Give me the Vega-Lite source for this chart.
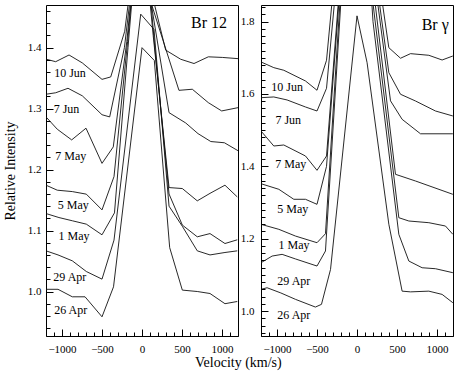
{
  "$schema": "https://vega.github.io/schema/vega-lite/v6.json",
  "padding": {"left": 2, "top": 4, "right": 3, "bottom": 4},
  "background": "white",
  "bounds": "flush",
  "spacing": 23,
  "title": {"text": "Velocity (km/s)", "orient": "bottom", "anchor": "middle", "font": "Liberation Serif", "fontSize": 14, "fontWeight": "normal", "color": "black", "offset": 1, "dx": 10},
  "config": {
    "font": "Liberation Serif",
    "view": {"stroke": "black", "strokeWidth": 1},
    "axis": {"grid": false, "domain": false, "ticks": true, "tickColor": "black", "tickOpacity": 1, "tickWidth": 1, "labelColor": "black", "labelFont": "Liberation Serif", "labelFontSize": 11, "titleFont": "Liberation Serif", "titleFontSize": 14, "titleFontWeight": "normal", "titleColor": "black", "labelOverlap": false, "labelFlush": false}
  },
  "datasets": {
    "br12": [
      {"date": "10 Jun", "v": -1195, "I": 1.381}, {"date": "10 Jun", "v": -1079, "I": 1.377}, {"date": "10 Jun", "v": -912, "I": 1.388}, {"date": "10 Jun", "v": -746, "I": 1.375}, {"date": "10 Jun", "v": -500, "I": 1.348}, {"date": "10 Jun", "v": -391, "I": 1.352}, {"date": "10 Jun", "v": -216, "I": 1.427}, {"date": "10 Jun", "v": -50, "I": 1.6}, {"date": "10 Jun", "v": 120, "I": 1.49}, {"date": "10 Jun", "v": 296, "I": 1.396}, {"date": "10 Jun", "v": 484, "I": 1.381}, {"date": "10 Jun", "v": 650, "I": 1.374}, {"date": "10 Jun", "v": 829, "I": 1.385}, {"date": "10 Jun", "v": 1004, "I": 1.384}, {"date": "10 Jun", "v": 1200, "I": 1.382},
      {"date": "7 Jun", "v": -1200, "I": 1.3236}, {"date": "7 Jun", "v": -1079, "I": 1.326}, {"date": "7 Jun", "v": -925, "I": 1.3334}, {"date": "7 Jun", "v": -746, "I": 1.321}, {"date": "7 Jun", "v": -500, "I": 1.29}, {"date": "7 Jun", "v": -404, "I": 1.2864}, {"date": "7 Jun", "v": -220, "I": 1.4}, {"date": "7 Jun", "v": -40, "I": 1.6}, {"date": "7 Jun", "v": 110, "I": 1.475}, {"date": "7 Jun", "v": 462, "I": 1.33}, {"date": "7 Jun", "v": 629, "I": 1.3318}, {"date": "7 Jun", "v": 829, "I": 1.3098}, {"date": "7 Jun", "v": 996, "I": 1.2962}, {"date": "7 Jun", "v": 1200, "I": 1.3016},
      {"date": "7 May", "v": -1200, "I": 1.2864}, {"date": "7 May", "v": -1059, "I": 1.2662}, {"date": "7 May", "v": -879, "I": 1.2487}, {"date": "7 May", "v": -700, "I": 1.2679}, {"date": "7 May", "v": -500, "I": 1.2102}, {"date": "7 May", "v": -359, "I": 1.2372}, {"date": "7 May", "v": -190, "I": 1.41}, {"date": "7 May", "v": -30, "I": 1.62}, {"date": "7 May", "v": 130, "I": 1.46}, {"date": "7 May", "v": 338, "I": 1.2934}, {"date": "7 May", "v": 546, "I": 1.2765}, {"date": "7 May", "v": 700, "I": 1.259}, {"date": "7 May", "v": 860, "I": 1.246}, {"date": "7 May", "v": 1030, "I": 1.244}, {"date": "7 May", "v": 1200, "I": 1.231},
      {"date": "5 May", "v": -1200, "I": 1.1744}, {"date": "5 May", "v": -1059, "I": 1.1662}, {"date": "5 May", "v": -871, "I": 1.1639}, {"date": "5 May", "v": -696, "I": 1.1597}, {"date": "5 May", "v": -500, "I": 1.1339}, {"date": "5 May", "v": -350, "I": 1.1885}, {"date": "5 May", "v": -180, "I": 1.41}, {"date": "5 May", "v": -20, "I": 1.64}, {"date": "5 May", "v": 140, "I": 1.42}, {"date": "5 May", "v": 338, "I": 1.1705}, {"date": "5 May", "v": 504, "I": 1.1689}, {"date": "5 May", "v": 691, "I": 1.1487}, {"date": "5 May", "v": 850, "I": 1.161}, {"date": "5 May", "v": 1037, "I": 1.1744}, {"date": "5 May", "v": 1191, "I": 1.1552},
      {"date": "1 May", "v": -1200, "I": 1.1279}, {"date": "1 May", "v": -1038, "I": 1.1213}, {"date": "1 May", "v": -870, "I": 1.116}, {"date": "1 May", "v": -696, "I": 1.1105}, {"date": "1 May", "v": -500, "I": 1.093}, {"date": "1 May", "v": -344, "I": 1.129}, {"date": "1 May", "v": -175, "I": 1.4}, {"date": "1 May", "v": -10, "I": 1.66}, {"date": "1 May", "v": 160, "I": 1.4}, {"date": "1 May", "v": 338, "I": 1.16}, {"date": "1 May", "v": 504, "I": 1.109}, {"date": "1 May", "v": 691, "I": 1.0897}, {"date": "1 May", "v": 850, "I": 1.095}, {"date": "1 May", "v": 1037, "I": 1.0787}, {"date": "1 May", "v": 1191, "I": 1.0848},
      {"date": "29 Apr", "v": -1200, "I": 1.0667}, {"date": "29 Apr", "v": -1050, "I": 1.06}, {"date": "29 Apr", "v": -871, "I": 1.0503}, {"date": "29 Apr", "v": -696, "I": 1.0328}, {"date": "29 Apr", "v": -500, "I": 1.0203}, {"date": "29 Apr", "v": -350, "I": 1.0843}, {"date": "29 Apr", "v": -16, "I": 1.455}, {"date": "29 Apr", "v": 150, "I": 1.43}, {"date": "29 Apr", "v": 338, "I": 1.14}, {"date": "29 Apr", "v": 504, "I": 1.107}, {"date": "29 Apr", "v": 691, "I": 1.0667}, {"date": "29 Apr", "v": 850, "I": 1.06}, {"date": "29 Apr", "v": 1037, "I": 1.064}, {"date": "29 Apr", "v": 1191, "I": 1.0667},
      {"date": "26 Apr", "v": -1200, "I": 1.0036}, {"date": "26 Apr", "v": -1050, "I": 1.0036}, {"date": "26 Apr", "v": -871, "I": 0.9913}, {"date": "26 Apr", "v": -712, "I": 0.9913}, {"date": "26 Apr", "v": -500, "I": 0.9585}, {"date": "26 Apr", "v": -356, "I": 1.0077}, {"date": "26 Apr", "v": 0, "I": 1.4}, {"date": "26 Apr", "v": 154, "I": 1.379}, {"date": "26 Apr", "v": 346, "I": 1.072}, {"date": "26 Apr", "v": 504, "I": 1.0023}, {"date": "26 Apr", "v": 691, "I": 1.0}, {"date": "26 Apr", "v": 850, "I": 0.9967}, {"date": "26 Apr", "v": 1037, "I": 0.98}, {"date": "26 Apr", "v": 1191, "I": 0.9836}
    ],
    "brg": [
      {"date": "10 Jun", "v": -1200, "I": 1.6886}, {"date": "10 Jun", "v": -1040, "I": 1.6728}, {"date": "10 Jun", "v": -915, "I": 1.6656}, {"date": "10 Jun", "v": -644, "I": 1.636}, {"date": "10 Jun", "v": -500, "I": 1.6103}, {"date": "10 Jun", "v": -381, "I": 1.6933}, {"date": "10 Jun", "v": -220, "I": 2.07}, {"date": "10 Jun", "v": 0, "I": 2.6}, {"date": "10 Jun", "v": 220, "I": 2.0}, {"date": "10 Jun", "v": 398, "I": 1.728}, {"date": "10 Jun", "v": 544, "I": 1.6988}, {"date": "10 Jun", "v": 669, "I": 1.7115}, {"date": "10 Jun", "v": 898, "I": 1.707}, {"date": "10 Jun", "v": 1064, "I": 1.694}, {"date": "10 Jun", "v": 1198, "I": 1.705},
      {"date": "7 Jun", "v": -1200, "I": 1.5898}, {"date": "7 Jun", "v": -1040, "I": 1.5918}, {"date": "7 Jun", "v": -874, "I": 1.5835}, {"date": "7 Jun", "v": -644, "I": 1.5641}, {"date": "7 Jun", "v": -500, "I": 1.553}, {"date": "7 Jun", "v": -381, "I": 1.6158}, {"date": "7 Jun", "v": -220, "I": 2.0}, {"date": "7 Jun", "v": 0, "I": 2.6}, {"date": "7 Jun", "v": 220, "I": 1.95}, {"date": "7 Jun", "v": 398, "I": 1.659}, {"date": "7 Jun", "v": 544, "I": 1.5992}, {"date": "7 Jun", "v": 731, "I": 1.5807}, {"date": "7 Jun", "v": 981, "I": 1.553}, {"date": "7 Jun", "v": 1198, "I": 1.5392},
      {"date": "7 May", "v": -1200, "I": 1.4977}, {"date": "7 May", "v": -1040, "I": 1.4562}, {"date": "7 May", "v": -915, "I": 1.459}, {"date": "7 May", "v": -644, "I": 1.4286}, {"date": "7 May", "v": -500, "I": 1.389}, {"date": "7 May", "v": -381, "I": 1.4286}, {"date": "7 May", "v": -200, "I": 1.95}, {"date": "7 May", "v": 0, "I": 2.6}, {"date": "7 May", "v": 200, "I": 1.95}, {"date": "7 May", "v": 419, "I": 1.581}, {"date": "7 May", "v": 564, "I": 1.53}, {"date": "7 May", "v": 794, "I": 1.49}, {"date": "7 May", "v": 1198, "I": 1.49},
      {"date": "5 May", "v": -1200, "I": 1.352}, {"date": "5 May", "v": -977, "I": 1.3365}, {"date": "5 May", "v": -790, "I": 1.3089}, {"date": "5 May", "v": -644, "I": 1.3089}, {"date": "5 May", "v": -500, "I": 1.295}, {"date": "5 May", "v": -381, "I": 1.4}, {"date": "5 May", "v": -200, "I": 1.93}, {"date": "5 May", "v": 0, "I": 2.6}, {"date": "5 May", "v": 200, "I": 1.9}, {"date": "5 May", "v": 481, "I": 1.378}, {"date": "5 May", "v": 731, "I": 1.3595}, {"date": "5 May", "v": 1198, "I": 1.3227},
      {"date": "1 May", "v": -1200, "I": 1.2397}, {"date": "1 May", "v": -977, "I": 1.2259}, {"date": "1 May", "v": -769, "I": 1.2073}, {"date": "1 May", "v": -500, "I": 1.1889}, {"date": "1 May", "v": -394, "I": 1.2137}, {"date": "1 May", "v": -200, "I": 1.9}, {"date": "1 May", "v": 0, "I": 2.6}, {"date": "1 May", "v": 200, "I": 1.85}, {"date": "1 May", "v": 523, "I": 1.258}, {"date": "1 May", "v": 648, "I": 1.2489}, {"date": "1 May", "v": 898, "I": 1.2442}, {"date": "1 May", "v": 1106, "I": 1.235}, {"date": "1 May", "v": 1198, "I": 1.2121},
      {"date": "29 Apr", "v": -1200, "I": 1.1335}, {"date": "29 Apr", "v": -1061, "I": 1.152}, {"date": "29 Apr", "v": -936, "I": 1.1567}, {"date": "29 Apr", "v": -769, "I": 1.144}, {"date": "29 Apr", "v": -500, "I": 1.1244}, {"date": "29 Apr", "v": -394, "I": 1.166}, {"date": "29 Apr", "v": -200, "I": 1.86}, {"date": "29 Apr", "v": 0, "I": 2.5}, {"date": "29 Apr", "v": 200, "I": 1.8}, {"date": "29 Apr", "v": 523, "I": 1.212}, {"date": "29 Apr", "v": 648, "I": 1.1382}, {"date": "29 Apr", "v": 814, "I": 1.1197}, {"date": "29 Apr", "v": 981, "I": 1.117}, {"date": "29 Apr", "v": 1198, "I": 1.106},
      {"date": "26 Apr", "v": -1200, "I": 1.06}, {"date": "26 Apr", "v": -1124, "I": 1.0644}, {"date": "26 Apr", "v": -952, "I": 1.05}, {"date": "26 Apr", "v": -769, "I": 1.0323}, {"date": "26 Apr", "v": -520, "I": 1.011}, {"date": "26 Apr", "v": -444, "I": 1.0185}, {"date": "26 Apr", "v": -331, "I": 1.115}, {"date": "26 Apr", "v": 0, "I": 1.816}, {"date": "26 Apr", "v": 126, "I": 1.6866}, {"date": "26 Apr", "v": 398, "I": 1.24}, {"date": "26 Apr", "v": 564, "I": 1.055}, {"date": "26 Apr", "v": 669, "I": 1.053}, {"date": "26 Apr", "v": 898, "I": 1.055}, {"date": "26 Apr", "v": 1064, "I": 1.046}, {"date": "26 Apr", "v": 1198, "I": 1.023}
    ],
    "lab12": [
      {"date": "10 Jun", "v": -900, "I": 1.3585}, {"date": "7 Jun", "v": -944, "I": 1.3}, {"date": "7 May", "v": -891, "I": 1.223}, {"date": "5 May", "v": -859, "I": 1.142}, {"date": "1 May", "v": -850, "I": 1.091}, {"date": "29 Apr", "v": -902, "I": 1.024}, {"date": "26 Apr", "v": -891, "I": 0.97}
    ],
    "labg": [
      {"date": "10 Jun", "v": -874, "I": 1.619}, {"date": "7 Jun", "v": -859, "I": 1.527}, {"date": "7 May", "v": -828, "I": 1.406}, {"date": "5 May", "v": -803, "I": 1.283}, {"date": "1 May", "v": -786, "I": 1.1825}, {"date": "29 Apr", "v": -790, "I": 1.084}, {"date": "26 Apr", "v": -790, "I": 0.989}
    ],
    "name12": [{"line": "Br 12", "v": 1062, "I": 1.4397}],
    "nameg": [{"line": "Br γ", "v": 1147, "I": 1.792}]
  },
  "hconcat": [
    {
      "width": 192,
      "height": 331,
      "resolve": {"scale": {"x": "shared", "y": "shared"}, "axis": {"x": "independent", "y": "independent"}},
      "layer": [
        {"mark": {"type": "rule", "strokeDash": [7, 4], "color": "black", "strokeWidth": 1},
          "encoding": {"x": {"datum": -500, "type": "quantitative", "scale": {"domain": [-1200, 1200], "nice": false, "zero": false}, "axis": null}}},
        {"mark": {"type": "rule", "strokeDash": [7, 4], "color": "black", "strokeWidth": 1},
          "encoding": {"x": {"datum": 0, "type": "quantitative", "scale": {"domain": [-1200, 1200], "nice": false, "zero": false}, "axis": null}}},
        {"data": {"name": "br12"}, "mark": {"type": "line", "clip": true, "color": "#111"},
          "encoding": {
            "x": {"field": "v", "type": "quantitative", "scale": {"domain": [-1200, 1200], "nice": false, "zero": false}, "axis": {"orient": "bottom", "title": null, "labels": false, "tickCount": 24, "tickSize": -4, "zindex": 2}},
            "y": {"field": "I", "type": "quantitative", "scale": {"domain": [0.927, 1.47], "nice": false, "zero": false}, "axis": {"orient": "left", "title": null, "labels": false, "tickCount": 27, "tickSize": -4, "zindex": 2}},
            "detail": {"field": "date"},
            "strokeWidth": {"field": "date", "type": "nominal", "scale": {"domain": ["10 Jun","7 Jun","7 May","5 May","1 May","29 Apr","26 Apr"], "range": [0.9,0.9,0.9,0.9,0.9,1.5,1.5]}, "legend": null}}},
        {"data": {"name": "lab12"}, "mark": {"type": "text", "font": "Liberation Serif", "fontSize": 12, "color": "black", "align": "center", "baseline": "middle"},
          "encoding": {
            "x": {"field": "v", "type": "quantitative", "scale": {"domain": [-1200, 1200], "nice": false, "zero": false}, "axis": {"orient": "bottom", "title": null, "tickCount": 5, "format": "d", "tickSize": -7, "zindex": 2, "labelPadding": 14}},
            "y": {"field": "I", "type": "quantitative", "scale": {"domain": [0.927, 1.47], "nice": false, "zero": false}, "axis": {"orient": "left", "title": "Relative Intensity", "titlePadding": 10, "tickCount": 5, "format": ".1f", "tickSize": -7, "zindex": 2, "labelPadding": 12}},
            "text": {"field": "date"}}},
        {"data": {"name": "name12"}, "mark": {"type": "text", "font": "Liberation Serif", "fontSize": 16, "color": "black", "align": "right", "baseline": "middle"},
          "encoding": {
            "x": {"field": "v", "type": "quantitative", "scale": {"domain": [-1200, 1200], "nice": false, "zero": false}, "axis": null},
            "y": {"field": "I", "type": "quantitative", "scale": {"domain": [0.927, 1.47], "nice": false, "zero": false}, "axis": null},
            "text": {"field": "line"}}}
      ]
    },
    {
      "width": 192,
      "height": 331,
      "resolve": {"scale": {"x": "shared", "y": "shared"}, "axis": {"x": "independent", "y": "independent"}},
      "layer": [
        {"mark": {"type": "rule", "strokeDash": [7, 4], "color": "black", "strokeWidth": 1},
          "encoding": {"x": {"datum": -500, "type": "quantitative", "scale": {"domain": [-1200, 1200], "nice": false, "zero": false}, "axis": null}}},
        {"mark": {"type": "rule", "color": "#333", "strokeWidth": 1.2},
          "encoding": {"x": {"datum": 0, "type": "quantitative", "scale": {"domain": [-1200, 1200], "nice": false, "zero": false}, "axis": null}}},
        {"data": {"name": "brg"}, "mark": {"type": "line", "clip": true, "color": "#111", "strokeWidth": 0.9},
          "encoding": {
            "x": {"field": "v", "type": "quantitative", "scale": {"domain": [-1200, 1200], "nice": false, "zero": false}, "axis": {"orient": "bottom", "title": null, "labels": false, "tickCount": 24, "tickSize": -4, "zindex": 2}},
            "y": {"field": "I", "type": "quantitative", "scale": {"domain": [0.931, 1.846], "nice": false, "zero": false}, "axis": {"orient": "left", "title": null, "labels": false, "tickCount": 46, "tickSize": -4, "zindex": 2}},
            "detail": {"field": "date"}}},
        {"data": {"name": "labg"}, "mark": {"type": "text", "font": "Liberation Serif", "fontSize": 12, "color": "black", "align": "center", "baseline": "middle"},
          "encoding": {
            "x": {"field": "v", "type": "quantitative", "scale": {"domain": [-1200, 1200], "nice": false, "zero": false}, "axis": {"orient": "bottom", "title": null, "tickCount": 5, "format": "d", "tickSize": -7, "zindex": 2, "labelPadding": 14}},
            "y": {"field": "I", "type": "quantitative", "scale": {"domain": [0.931, 1.846], "nice": false, "zero": false}, "axis": {"orient": "left", "title": null, "tickCount": 5, "format": ".1f", "tickSize": -7, "zindex": 2, "labelPadding": 14}},
            "text": {"field": "date"}}},
        {"data": {"name": "nameg"}, "mark": {"type": "text", "font": "Liberation Serif", "fontSize": 16, "color": "black", "align": "right", "baseline": "middle"},
          "encoding": {
            "x": {"field": "v", "type": "quantitative", "scale": {"domain": [-1200, 1200], "nice": false, "zero": false}, "axis": null},
            "y": {"field": "I", "type": "quantitative", "scale": {"domain": [0.931, 1.846], "nice": false, "zero": false}, "axis": null},
            "text": {"field": "line"}}}
      ]
    }
  ]
}
